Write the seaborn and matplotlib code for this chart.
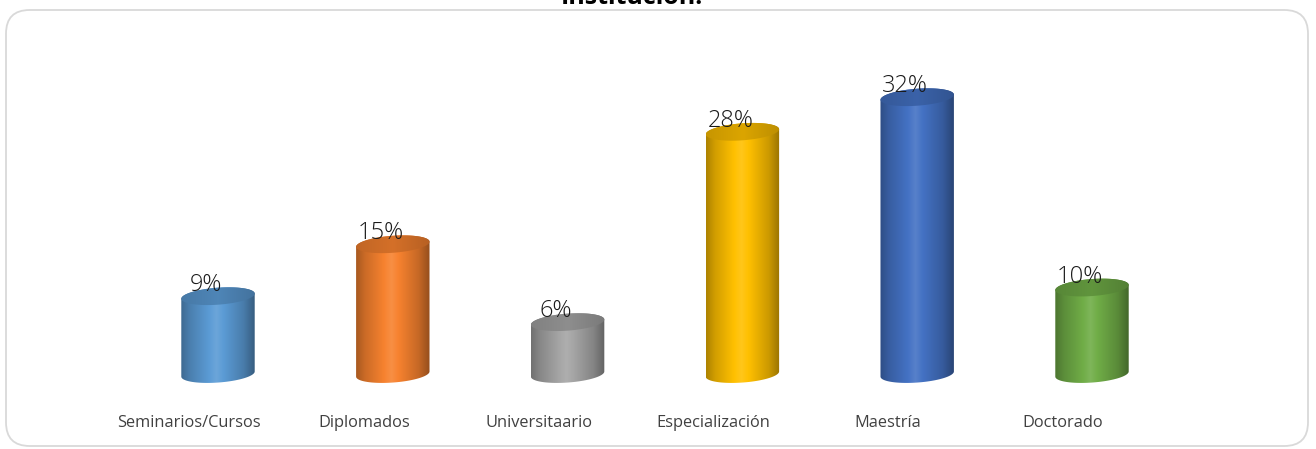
import numpy as np
import matplotlib
matplotlib.use("Agg")
import matplotlib.pyplot as plt
import matplotlib.transforms as mtrans
import seaborn as sns
from matplotlib.patches import FancyBboxPatch, PathPatch, Polygon
from matplotlib.path import Path
from matplotlib.colors import to_rgb

# data
categories = ["Seminarios/Cursos", "Diplomados", "Universitaario",
              "Especialización", "Maestría", "Doctorado"]
values = [9, 15, 6, 28, 32, 10]
labels = ["9%", "15%", "6%", "28%", "32%", "10%"]
colors = ["#5B9BD5", "#F7822F", "#A5A5A5", "#FFC000", "#4472C4", "#70AD47"]

sns.set_theme(style="white")
plt.rcParams["font.family"] = ["Open Sans", "DejaVu Sans"]

fig = plt.figure(figsize=(13.16, 4.49), dpi=100)
W, H = 1316, 449

# rounded frame
frame = FancyBboxPatch((6 / W, 3 / H), 1302 / W, 436 / H,
                       boxstyle="round,pad=0,rounding_size=0.018",
                       transform=fig.transFigure, facecolor="white",
                       edgecolor="#d9d9d9", linewidth=1.3, mutation_aspect=W / H,
                       zorder=-5)
fig.patches.append(frame)

fig.text(632 / W, 1 - 4 / H, "Institución.", ha="center", va="baseline",
         fontsize=18, fontweight="bold", color="#000000")

ax = fig.add_axes([130.6 / W, 49 / H, 1048.8 / W, 372 / H])
ax.set_facecolor("none")

sns.barplot(x=categories, y=values, hue=categories, palette=colors,
            width=0.42, legend=False, ax=ax)
ax.set_xlim(-0.5, 5.5)
ax.set_ylim(-3, 40)
sns.despine(ax=ax, left=True, bottom=True)
ax.set_yticks([])
ax.set_xlabel("")
ax.set_ylabel("")
ax.tick_params(axis="x", length=0, pad=11, labelsize=11.8, labelcolor="#404040")
shift = mtrans.ScaledTranslation(-29 / 100, 0, fig.dpi_scale_trans)
for lab in ax.get_xticklabels():
    lab.set_transform(lab.get_transform() + shift)

# pixel scales
px_x = 1048.8 / 6.0      # pixels per x unit
px_y = 372 / 43.0        # pixels per y unit
b = 8.5 / px_y           # ellipse semi-minor (data)
shear = 0.07 * px_x / px_y  # slope of ellipse tilt (data)

def shade(c, f):
    c = np.array(to_rgb(c))
    if f >= 1:
        return c + (1 - c) * (f - 1) * 1.5
    return c * f

tt = np.linspace(0, 1, 200)
prof = np.interp(tt, [0, 0.12, 0.48, 0.85, 1], [0.68, 0.82, 1.07, 0.8, 0.6])
tprof = np.interp(tt, [0, 0.5, 1], [0.78, 0.86, 0.74])

bars = [p for p in ax.patches]
for i, p in enumerate(bars):
    x0, w, h = p.get_x(), p.get_width(), p.get_height()
    xc = x0 + w / 2
    a = w / 2
    p.set_visible(False)
    c = colors[i]
    # cylinder silhouette
    th = np.linspace(np.pi, 2 * np.pi, 60)
    bx = xc + a * np.cos(th)
    by = 0 + b * np.sin(th) + shear * (bx - xc)
    th2 = np.linspace(0, np.pi, 60)
    tx = xc + a * np.cos(th2)
    ty = h + b * np.sin(th2) + shear * (tx - xc)
    verts = np.vstack([np.column_stack([bx, by]), np.column_stack([tx, ty]),
                       [[bx[0], by[0]]]])
    codes = [Path.MOVETO] + [Path.LINETO] * (len(verts) - 2) + [Path.CLOSEPOLY]
    body = PathPatch(Path(verts, codes), facecolor="none", edgecolor="none")
    ax.add_patch(body)
    grad = np.array([shade(c, f) for f in prof])[None, :, :]
    im = ax.imshow(grad, extent=(x0, x0 + w, -3 * b, h + 3 * b), aspect="auto",
                   interpolation="bilinear", zorder=2)
    im.set_clip_path(body)
    # top ellipse
    th3 = np.linspace(0, 2 * np.pi, 120)
    ex = xc + a * np.cos(th3)
    ey = h + b * np.sin(th3) + shear * (ex - xc)
    top = Polygon(np.column_stack([ex, ey]), closed=True,
                  facecolor="none", edgecolor="none", zorder=3)
    ax.add_patch(top)
    tgrad = np.array([shade(c, f) for f in tprof])[None, :, :]
    tim = ax.imshow(tgrad, extent=(x0, x0 + w, h - 3 * b, h + 3 * b), aspect="auto",
                    interpolation="bilinear", zorder=3)
    tim.set_clip_path(top)
    ax.text(xc - 12 / px_x, h + 5 / px_y, labels[i], ha="center", va="baseline",
            fontsize=17, fontweight="light", color="#1a1a1a", zorder=4)

ax.set_xlim(-0.5, 5.5)
ax.set_ylim(-3, 40)
fig.savefig("out.png", dpi=100)
